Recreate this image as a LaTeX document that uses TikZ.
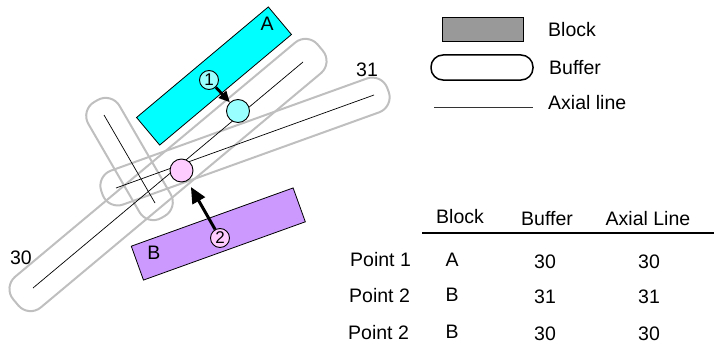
\documentclass[tikz,border=0pt]{standalone}
\usepackage{fontspec}
\setmainfont{Liberation Sans}
\usetikzlibrary{arrows.meta}
\definecolor{bufgray}{HTML}{BFBFBF}
\definecolor{blockA}{HTML}{00FFFF}
\definecolor{ptcyan}{HTML}{99FFFF}
\definecolor{blockB}{HTML}{CC99FF}
\definecolor{ptpink}{HTML}{FFCCFF}
\definecolor{leggray}{HTML}{999999}
\begin{document}
\begin{tikzpicture}[x=1pt,y=-1pt,
  buffer/.style={draw=bufgray, line width=2pt, rounded corners=16pt, inner sep=0pt, minimum height=38pt},
  blockbox/.style={draw=black, line width=0.8pt, inner sep=0pt, minimum width=172pt, minimum height=36pt},
  axial/.style={line width=0.7pt},
  pt/.style={circle, draw, line width=0.9pt, inner sep=0pt, minimum size=23pt},
  num/.style={circle, draw, line width=0.9pt, inner sep=0pt, minimum size=19pt, font=\fontsize{17}{17}\selectfont},
  lbl/.style={font=\fontsize{19.5}{22}\selectfont, inner sep=0pt},
  bigarrow/.style={-{Triangle[length=16pt,width=14pt]}, line width=3pt},
  smallarrow/.style={-{Triangle[length=11pt,width=10pt]}, line width=2.8pt}
]
\useasboundingbox (0,0) rectangle (714,345);

% blocks
\node[blockbox, fill=blockA, rotate=40] (blkA) at (214,76) {};
\node[blockbox, fill=blockB, rotate=19.8] (blkB) at (218.3,234) {};
\node[lbl] (labA) at (267,24) {A};
\node[lbl] (labB) at (154,253) {B};

% buffers
\node[buffer, minimum width=397pt, minimum height=40pt, rotate=39.9] (buf30) at (168,175) {};
\node[buffer, minimum width=304pt, minimum height=36pt, rotate=19.8] (buf31) at (245,141.5) {};
\node[buffer, minimum width=134pt, minimum height=36pt, rotate=-59.9] (bufx) at (129.5,159) {};

% axial lines
\coordinate (a30s) at (33,288);
\coordinate (a30e) at (303,62);
\coordinate (a31s) at (116,188);
\coordinate (a31e) at (374,95);
\coordinate (axs) at (104,115);
\coordinate (axe) at (155,203);
\draw[axial] (a30s) -- (a30e);
\draw[axial] (a31s) -- (a31e);
\draw[axial] (axs) -- (axe);

\node[lbl] (lab30) at (21,258) {30};
\node[lbl] (lab31) at (367,70) {31};

% points
\node[pt, fill=ptcyan] (p1) at (238,111) {};
\node[pt, fill=ptpink] (p2) at (181.5,170.5) {};
\node[num, fill=ptcyan] (n1) at (209,80) {1};
\node[num, fill=ptpink] (n2) at (220,238) {2};
\draw[smallarrow] (n1) -- (p1);
\draw[bigarrow, shorten >=7pt] (n2) -- (p2);

% legend
\node[draw=black, line width=0.8pt, fill=leggray, minimum width=81pt, minimum height=24pt, inner sep=0pt] (legblock) at (482.5,29) {};
\node[draw=black, line width=1.5pt, rounded corners=12pt, minimum width=102pt, minimum height=25pt, inner sep=0pt] (legbuf) at (482,67.5) {};
\coordinate (legls) at (434,107);
\coordinate (legle) at (533,107);
\draw[line width=1pt, black!80] (legls) -- (legle);
\node[lbl, anchor=west] (tblock) at (548,30) {Block};
\node[lbl, anchor=west] (tbuf) at (549,68) {Buffer};
\node[lbl, anchor=west] (taxial) at (548,103) {Axial line};

% table
\node[lbl] (h1) at (460,217) {Block};
\node[lbl] (h2) at (547,219) {Buffer};
\node[lbl] (h3) at (648,219) {Axial Line};
\coordinate (tls) at (422,233);
\coordinate (tle) at (714,233);
\draw[line width=1.5pt] (tls) -- (tle);

\node[lbl, anchor=west] (r1a) at (350,260) {Point 1};
\node[lbl] (r1b) at (452,260) {A};
\node[lbl] (r1c) at (545,262) {30};
\node[lbl] (r1d) at (649,262) {30};

\node[lbl, anchor=west] (r2a) at (349,296) {Point 2};
\node[lbl] (r2b) at (452,295) {B};
\node[lbl] (r2c) at (545,297) {31};
\node[lbl] (r2d) at (649,297) {31};

\node[lbl, anchor=west] (r3a) at (348,333) {Point 2};
\node[lbl] (r3b) at (452,332) {B};
\node[lbl] (r3c) at (545,334) {30};
\node[lbl] (r3d) at (649,334) {30};
\end{tikzpicture}
\end{document}
